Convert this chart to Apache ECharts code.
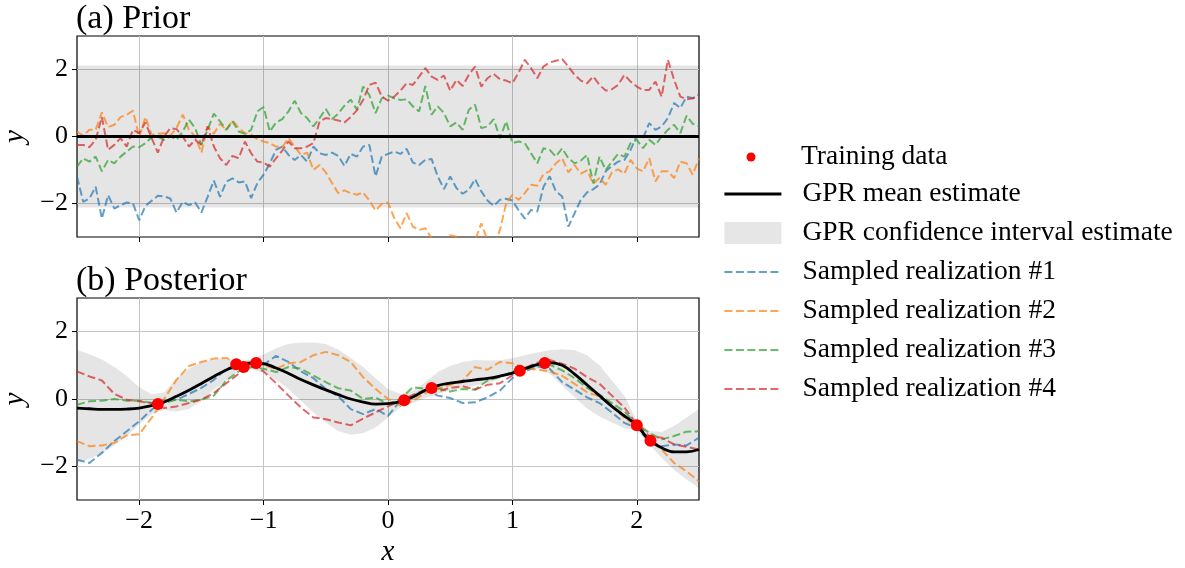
<!DOCTYPE html>
<html>
<head>
<meta charset="utf-8">
<script src="https://cdn.jsdelivr.net/npm/echarts@6.0.0/dist/echarts.min.js"></script>
<style>
  html, body { margin: 0; padding: 0; background: #fff; }
  #chart { width: 1185px; height: 568px; }
</style>
</head>
<body>
<div id="chart"></div>
<script>
// (a) prior: x grid and the four sampled paths
const priorX = [
  -2.5, -2.45, -2.4, -2.35, -2.3, -2.25, -2.2, -2.15, -2.1, -2.05,
  -2, -1.95, -1.9, -1.85, -1.8, -1.75, -1.7, -1.65, -1.6, -1.55,
  -1.5, -1.45, -1.4, -1.35, -1.3, -1.25, -1.2, -1.15, -1.1, -1.05,
  -1, -0.95, -0.9, -0.85, -0.8, -0.75, -0.7, -0.65, -0.6, -0.55,
  -0.5, -0.45, -0.4, -0.35, -0.3, -0.25, -0.2, -0.15, -0.1, -0.05,
  0, 0.05, 0.1, 0.15, 0.2, 0.25, 0.3, 0.35, 0.4, 0.45,
  0.5, 0.55, 0.6, 0.65, 0.7, 0.75, 0.8, 0.85, 0.9, 0.95,
  1, 1.05, 1.1, 1.15, 1.2, 1.25, 1.3, 1.35, 1.4, 1.45,
  1.5, 1.55, 1.6, 1.65, 1.7, 1.75, 1.8, 1.85, 1.9, 1.95,
  2, 2.05, 2.1, 2.15, 2.2, 2.25, 2.3, 2.35, 2.4, 2.45,
  2.5,
]
const priorBlue = [
  -1.2, -1.95, -1.85, -1.5, -2.45, -1.75, -2.15, -2.05, -1.97, -2.0,
  -2.5, -2.07, -1.92, -1.77, -1.79, -1.85, -2.27, -1.95, -2.05, -1.97,
  -2.27, -1.8, -1.32, -1.8, -1.35, -1.25, -1.37, -1.34, -1.84, -1.39,
  -1.14, -0.8, -0.4, -0.3, -0.55, -0.7, -0.55, -0.75, -0.3, -0.5,
  -0.55, -0.48, -0.58, -0.88, -0.52, -0.6, -0.3, -0.25, -1.19, -0.6,
  -0.52, -0.45, -0.52, -0.37, -0.78, -0.85, -0.7, -0.67, -1.19, -1.57,
  -1.19, -1.54, -1.71, -1.59, -1.27, -1.64, -1.91, -2.07, -1.89, -1.86,
  -1.91, -2.2, -2.45, -2.19, -2.24, -1.5, -1.19, -1.64, -1.79, -2.69,
  -2.29, -1.89, -1.67, -1.57, -1.44, -1.04, -0.88, -0.75, -0.7, -0.4,
  0.02, -0.05, 0.4, 0.2, 0.3, 0.55, 1.0, 0.85, 1.19, 1.14,
  1.24,
]
const priorOrange = [
  0.15, 0.02, 0.2, 0.2, 0.72, 0.28, 0.35, 0.58, 0.65, 0.77,
  -0.02, 0.58, 0.05, 0.08, 0.1, 0.02, 0.25, 0.65, 0.2, 0.0,
  -0.48, 0.3, 0.08, 0.38, 0.2, 0.48, 0.25, 0.1, 0.05, -0.08,
  -0.15, -0.2, -0.3, -0.32, -0.05, -0.3, -0.55, -0.48, -1.0, -0.85,
  -1.07, -1.39, -1.69, -1.61, -1.69, -1.74, -1.67, -1.91, -2.21, -2.01,
  -1.97, -2.44, -2.74, -2.29, -2.69, -2.79, -2.74, -3.04, -3.2, -3.3,
  -2.95, -2.99, -3.2, -3.3, -3.1, -2.59, -3.1, -3.3, -2.79, -1.99,
  -1.74, -1.89, -1.69, -1.44, -1.47, -1.12, -1.04, -0.8, -0.65, -1.07,
  -0.85, -1.11, -1.01, -1.41, -1.24, -1.44, -1.07, -0.98, -1.11, -0.7,
  -0.95, -1.04, -0.65, -1.34, -1.04, -1.04, -1.24, -0.75, -0.8, -1.14,
  -0.65,
]
const priorGreen = [
  -0.9, -0.65, -0.75, -0.6, -1.04, -0.7, -0.8, -0.6, -0.45, -0.3,
  -0.32, -0.2, -0.02, 0.0, -0.1, 0.02, -0.1, 0.15, 0.5, 0.25,
  -0.25, 0.2, 0.68, 0.45, 0.2, 0.45, 0.15, 0.08, 0.2, 0.75,
  0.88, 0.15, 0.42, 0.52, 0.75, 1.07, 0.7, 0.55, 0.3, 0.55,
  0.82, 0.52, 0.68, 0.92, 1.1, 0.8, 1.49, 1.24, 0.7, 1.14,
  1.22, 1.14, 1.09, 1.11, 0.9, 0.75, 1.51, 0.65, 0.9, 0.7,
  0.3, 0.42, 0.2, 0.8, 0.95, 0.25, 0.3, 0.52, -0.05, 0.45,
  -0.2, -0.15, -0.2, -0.5, -0.8, -0.35, -0.4, -0.6, -0.35, -0.65,
  -0.8, -0.72, -0.55, -1.4, -0.6, -1.0, -0.75, -0.52, -0.6, -0.2,
  -0.1, -0.35, -0.1, -0.25, 0.0, 0.2, 0.35, 0.1, 0.62, 0.38,
  0.3,
]
const priorRed = [
  -0.25, -0.25, -0.32, -0.1, 0.58, -0.4, -0.25, -0.05, -0.3, 0.2,
  0.1, 0.42, -0.05, -0.48, 0.0, 0.25, 0.22, 0.0, -0.3, -0.1,
  -0.25, 0.3, -0.3, -0.65, -0.85, -0.58, -0.65, -0.15, -0.5, -0.75,
  -0.78, -0.9, -0.65, -0.42, -0.15, -0.35, -0.35, -0.3, -0.2, 0.45,
  0.55, 0.52, 0.48, 0.42, 0.58, 0.78, 1.09, 1.54, 1.61, 1.19,
  1.07, 1.19, 1.37, 1.59, 1.54, 1.79, 2.04, 1.79, 1.69, 1.82,
  1.37, 1.69, 1.51, 1.84, 2.09, 1.49, 1.74, 1.87, 1.71, 1.67,
  1.59, 1.91, 2.29, 2.04, 1.74, 2.09, 2.21, 2.26, 2.31, 2.09,
  1.84, 1.67, 1.59, 1.79, 1.54, 1.37, 1.41, 1.54, 1.84, 1.64,
  1.49, 1.39, 1.39, 1.64, 1.19, 2.29, 1.69, 1.19, 1.11, 1.14,
  1.24,
]
const priorEdgeX = [-2.5, 2.5]
const priorMean = [0, 0]
const priorLower = [-2.12, -2.12]
const priorUpper = [2.12, 2.12]

// (b) posterior
const postX = [
  -2.5, -2.4, -2.3, -2.2, -2.1, -2, -1.9, -1.8, -1.7, -1.6,
  -1.5, -1.4, -1.3, -1.2, -1.1, -1, -0.9, -0.8, -0.7, -0.6,
  -0.5, -0.4, -0.3, -0.2, -0.1, 0, 0.1, 0.2, 0.3, 0.4,
  0.5, 0.6, 0.7, 0.8, 0.9, 1, 1.1, 1.2, 1.3, 1.4,
  1.5, 1.6, 1.7, 1.8, 1.9, 2, 2.1, 2.2, 2.3, 2.4, 2.5,
]
const postMean = [
  -0.27, -0.29, -0.31, -0.31, -0.3, -0.27, -0.2, -0.09, 0.08, 0.26,
  0.46, 0.67, 0.86, 1.02, 1.07, 1.05, 0.92, 0.76, 0.58, 0.42,
  0.27, 0.13, 0.0, -0.09, -0.15, -0.14, -0.08, 0.06, 0.26, 0.4,
  0.47, 0.52, 0.57, 0.61, 0.68, 0.77, 0.9, 1.02, 1.08, 1.0,
  0.74, 0.42, 0.1, -0.22, -0.5, -0.78, -1.22, -1.45, -1.57, -1.57, -1.5,
]
const postUpper = [
  1.46, 1.33, 1.17, 0.95, 0.68, 0.35, 0.14, 0.2, 0.62, 0.9,
  1.1, 1.18, 1.21, 1.12, 1.17, 1.32, 1.51, 1.64, 1.68, 1.68,
  1.63, 1.47, 1.22, 0.95, 0.62, 0.3, 0.15, 0.25, 0.5, 0.8,
  0.98, 1.1, 1.16, 1.14, 1.15, 1.22, 1.3, 1.38, 1.45, 1.48,
  1.45, 1.3, 1.0, 0.55, 0.1, -0.65, -0.95, -0.98, -0.8, -0.55, -0.3,
]
const postLower = [
  -1.9, -1.78, -1.62, -1.38, -1.1, -0.75, -0.45, -0.33, -0.37, -0.3,
  -0.05, 0.28, 0.55, 0.85, 0.88, 0.78, 0.57, 0.3, -0.05, -0.4,
  -0.7, -0.95, -1.06, -1.02, -0.85, -0.55, -0.25, -0.12, 0.03, 0.15,
  0.25, 0.33, 0.4, 0.47, 0.6, 0.75, 0.85, 0.9, 0.75, 0.4,
  0.05, -0.28, -0.52, -0.7, -0.87, -0.92, -1.35, -1.75, -2.1, -2.4, -2.64,
]
const postBlue = [
  -1.8, -1.9, -1.6, -1.25, -0.96, -0.66, -0.32, -0.02, -0.02, 0.15,
  0.33, 0.57, 0.89, 0.92, 0.95, 1.02, 1.28, 1.1, 0.82, 0.62,
  0.3, 0.08, -0.3, -0.45, -0.3, -0.5, -0.05, 0.1, 0.27, 0.1,
  0.03, -0.12, -0.1, 0.05, 0.25, 0.62, 0.82, 0.97, 0.9, 0.5,
  0.28, 0.05, -0.12, -0.4, -0.71, -0.86, -1.25, -1.4, -1.35, -1.38, -1.15,
]
const postOrange = [
  -1.25, -1.4, -1.38, -1.3, -1.08, -1.05, -0.56, 0.0, 0.57, 0.98,
  1.1, 1.2, 1.22, 1.08, 1.0, 1.0, 0.9, 1.06, 1.1, 1.3,
  1.4, 1.3, 1.1, 0.65, 0.3, 0.0, -0.2, -0.05, 0.18, 0.3,
  0.42, 0.55, 0.95, 0.87, 1.1, 1.06, 0.92, 0.87, 0.82, 0.69,
  0.45, 0.2, 0.08, -0.22, -0.56, -0.81, -1.2, -1.5, -1.9, -2.15, -2.45,
]
const postGreen = [
  -0.17, -0.07, -0.05, 0.0, -0.05, -0.05, -0.12, -0.12, -0.02, -0.07,
  -0.02, 0.1, 0.55, 0.82, 0.95, 0.9, 0.8, 0.95, 0.9, 0.7,
  0.5, 0.32, 0.25, 0.0, 0.05, -0.15, 0.0, 0.35, 0.3, 0.32,
  0.22, 0.3, 0.28, 0.55, 0.65, 0.82, 0.9, 1.0, 1.02, 0.85,
  0.62, 0.33, 0.12, -0.12, -0.37, -0.76, -1.0, -1.2, -1.1, -0.97, -0.96,
]
const postRed = [
  0.82, 0.67, 0.55, 0.15, -0.02, -0.07, -0.12, -0.27, -0.22, -0.12,
  -0.02, 0.18, 0.47, 0.75, 1.0, 0.82, 0.47, 0.1, -0.25, -0.55,
  -0.6, -0.7, -0.78, -0.58, -0.4, -0.22, -0.05, 0.12, 0.28, 0.22,
  0.33, 0.38, 0.28, 0.42, 0.47, 0.7, 0.92, 1.08, 1.16, 1.05,
  0.9, 0.65, 0.45, 0.1, -0.25, -0.75, -1.1, -1.15, -1.35, -1.42, -1.5,
]
const trainX = [-1.85, -1.22, -1.16, -1.06, 0.13, 0.35, 1.06, 1.26, 2.0, 2.11]
const trainY = [-0.15, 1.03, 0.95, 1.07, -0.04, 0.33, 0.84, 1.07, -0.78, -1.24]

const xTicks = [-2, -1, 0, 1, 2]
const yTicks = [-2, 0, 2]

const sampleNames = ['Sampled realization #1', 'Sampled realization #2', 'Sampled realization #3', 'Sampled realization #4']
const sampleColors = ['#1f77b4', '#ff7f0e', '#2ca02c', '#d62728']

const FONT = 'Liberation Serif'
const pairs = (xs, ys) => xs.map((x, i) => [x, ys[i]])
const minus = v => (v < 0 ? '\u2212' + Math.abs(v) : String(v))

function xAxis(gridIndex, withLabels) {
  return {
    type: 'value', gridIndex, min: -2.5, max: 2.5,
    axisLine: {show: false, onZero: false},
    axisTick: {show: true, inside: false, length: 5, customValues: xTicks, lineStyle: {color: '#000', width: 1}},
    axisLabel: {show: withLabels, customValues: xTicks, formatter: minus, margin: 8,
      color: '#000', fontFamily: FONT, fontSize: 26},
    splitLine: {show: true, lineStyle: {color: '#c4c4c4', width: 1}},
    name: withLabels ? 'x' : '', nameLocation: 'middle', nameGap: 38,
    nameTextStyle: {color: '#000', fontFamily: FONT, fontStyle: 'italic', fontSize: 29},
  }
}

function yAxis(gridIndex) {
  return {
    type: 'value', gridIndex, min: -3, max: 3,
    axisLine: {show: false, onZero: false},
    axisTick: {show: true, inside: false, length: 5, customValues: yTicks, lineStyle: {color: '#000', width: 1}},
    axisLabel: {customValues: yTicks, formatter: minus, margin: 9,
      color: '#000', fontFamily: FONT, fontSize: 26},
    splitLine: {show: true, lineStyle: {color: '#c4c4c4', width: 1}},
    name: 'y', nameLocation: 'middle', nameGap: 46, nameRotate: 90,
    nameTextStyle: {color: '#000', fontFamily: FONT, fontStyle: 'italic', fontSize: 29},
  }
}

// confidence band drawn as one polygon through the axis scales
function band(idx, xs, lower, upper) {
  return {
    type: 'custom', name: 'GPR confidence interval estimate', xAxisIndex: idx, yAxisIndex: idx,
    silent: true, z: 1, clip: true, itemStyle: {color: '#e6e6e6'},
    data: xs.map((x, i) => [x, lower[i], upper[i]]),
    encode: {x: 0, y: [1, 2]},
    renderItem(params, api) {
      if (params.dataIndex !== 0) return null
      const top = xs.map((x, i) => api.coord([x, upper[i]]))
      const bottom = xs.map((x, i) => api.coord([x, lower[i]])).reverse()
      return {
        type: 'polygon',
        shape: {points: top.concat(bottom)},
        style: {fill: 'rgba(0,0,0,0.1)'},
      }
    },
  }
}

function samples(idx, xs, list) {
  return list.map((ys, i) => ({
    type: 'line', name: sampleNames[i], xAxisIndex: idx, yAxisIndex: idx,
    symbol: 'none', silent: true, z: 2, data: pairs(xs, ys),
    itemStyle: {color: sampleColors[i]},
    lineStyle: {color: sampleColors[i], width: 2, opacity: 0.7, type: [8, 3.5]},
  }))
}

function mean(idx, xs, ys) {
  return {
    type: 'line', name: 'GPR mean estimate', xAxisIndex: idx, yAxisIndex: idx,
    symbol: 'none', smooth: xs.length > 2 ? 0.4 : false, silent: true, z: 3,
    data: pairs(xs, ys), itemStyle: {color: '#000'}, lineStyle: {color: '#000', width: 2.8},
  }
}

const legendText = {color: '#000', fontFamily: FONT, fontSize: 27.5}
const hideDot = {opacity: 0}

const option = {
  animation: false,
  backgroundColor: '#fff',
  title: [
    {text: '(a) Prior', left: 76, top: 2, padding: 0,
      textStyle: {color: '#000', fontFamily: FONT, fontWeight: 'normal', fontSize: 34}},
    {text: '(b) Posterior', left: 76, top: 264, padding: 0,
      textStyle: {color: '#000', fontFamily: FONT, fontWeight: 'normal', fontSize: 34}},
  ],
  grid: [
    {left: 77, top: 36, width: 622, height: 201, show: true, borderColor: '#000', borderWidth: 1.2, outerBoundsMode: 'none'},
    {left: 77, top: 298, width: 622, height: 202, show: true, borderColor: '#000', borderWidth: 1.2, outerBoundsMode: 'none'},
  ],
  xAxis: [xAxis(0, false), xAxis(1, true)],
  yAxis: [yAxis(0), yAxis(1)],
  legend: [
    {
      data: [{name: 'Training data', icon: 'circle', itemStyle: {opacity: 1}}],
      orient: 'vertical', left: 746.5, top: 143, padding: 0, itemWidth: 9, itemHeight: 9,
      selectedMode: false, textStyle: {...legendText, padding: [0, 0, 0, 40.5]},
    },
    {
      data: [
        {name: 'GPR mean estimate', itemStyle: hideDot, lineStyle: {width: 2.8}},
        {name: 'GPR confidence interval estimate', icon: 'rect', itemStyle: {color: '#e6e6e6', opacity: 1, borderWidth: 0}},
        ...sampleNames.map(n => ({name: n, itemStyle: hideDot, lineStyle: {width: 2, opacity: 0.7}})),
      ],
      orient: 'vertical', left: 723, top: 180, padding: 0, itemWidth: 57, itemHeight: 22, itemGap: 11,
      symbolKeepAspect: false, selectedMode: false, textStyle: {...legendText, padding: [0, 0, 0, 16]},
    },
  ],
  series: [
    band(0, priorEdgeX, priorLower, priorUpper),
    ...samples(0, priorX, [priorBlue, priorOrange, priorGreen, priorRed]),
    mean(0, priorEdgeX, priorMean),
    band(1, postX, postLower, postUpper),
    ...samples(1, postX, [postBlue, postOrange, postGreen, postRed]),
    mean(1, postX, postMean),
    {
      type: 'scatter', name: 'Training data', xAxisIndex: 1, yAxisIndex: 1,
      symbolSize: 12, silent: true, z: 4, itemStyle: {color: '#ff0000', opacity: 1},
      data: pairs(trainX, trainY),
    },
  ],
}

const chart = echarts.init(document.getElementById('chart'), null, {renderer: 'canvas'})
chart.setOption(option)
</script>
</body>
</html>
